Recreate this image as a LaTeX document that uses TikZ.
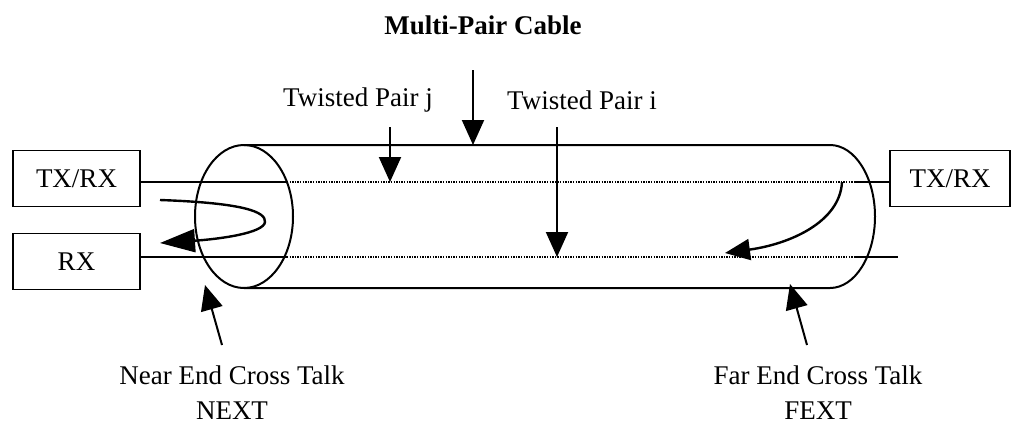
\documentclass[tikz,border=0pt]{standalone}
\usepackage{fontspec}
\setmainfont{Liberation Serif}
\usetikzlibrary{arrows.meta}
\begin{document}
\begin{tikzpicture}[x=1pt,y=-1pt,
  lbl/.style={font=\fontsize{27}{31}\selectfont, inner sep=0pt},
  unit/.style={draw, line width=1.4pt, minimum width=127pt, minimum height=56pt, inner sep=0pt, font=\fontsize{27}{31}\selectfont},
  wire/.style={line width=1.4pt},
  dots/.style={line width=1.2pt, dash pattern=on 1.3pt off 1.3pt},
  hull/.style={line width=2pt},
  pointer/.style={line width=2pt, -{Triangle[length=25pt,width=22pt]}},
  looparrow/.style={line width=2.4pt, -{Triangle[length=35pt,width=23pt]}}
]
\useasboundingbox (0,0) rectangle (1012,424);

% terminal equipment
\node[unit] (txl) at (76.5,178.5) {TX/RX};
\node[unit] (rxl) at (76.5,261.5) {RX};
\node[unit, minimum width=120pt] (txr) at (950,178.5) {TX/RX};

% cable sheath: front ellipse, straight sides and rounded far end
\draw[hull] (244,216.5) ellipse [x radius=49, y radius=71.5];
\draw[hull] (244,145) -- (830,145)
  arc[start angle=-90, end angle=90, x radius=45, y radius=71.5]
  -- (244,288);

% the two pairs running through the cable
\coordinate (jin) at (287,182);
\coordinate (jout) at (855,182);
\coordinate (iin) at (287,257);
\coordinate (iout) at (855,257);
\coordinate (iend) at (898,257);
\draw[wire] (txl.east |- jin) -- (jin);
\draw[dots] (jin) -- (jout);
\draw[wire] (jout) -- (txr.west |- jout);
\draw[wire] (rxl.east |- iin) -- (iin);
\draw[dots] (iin) -- (iout);
\draw[wire] (iout) -- (iend);

% labels at the top
\node[lbl, font=\fontsize{27}{31}\selectfont\bfseries] (title) at (483,25) {Multi-Pair Cable};
\node[lbl] (pj) at (358,100) {Twisted Pair j};
\node[lbl] (pi) at (582,100) {Twisted Pair i};
\coordinate (cabtop) at (473,70);
\coordinate (cabtip) at (473,145);
\coordinate (pjtop) at (390,127);
\coordinate (pjtip) at (390,182);
\coordinate (pitop) at (557,127);
\coordinate (pitip) at (557,257);
\draw[pointer] (cabtop) -- (cabtip);
\draw[pointer] (pjtop) -- (pjtip);
\draw[pointer] (pitop) -- (pitip);

% near end coupling loop
\coordinate (ns) at (160,200);
\coordinate (nm) at (265,222);
\coordinate (ne) at (160,243);
\draw[looparrow] (ns) .. controls (245,203) and (266,212) .. (nm)
  .. controls (264,233) and (220,239) .. (ne);

% far end coupling curve
\coordinate (fs) at (842,182);
\coordinate (fe) at (725,253);
\draw[line width=2.4pt, -{Triangle[length=25pt,width=21pt]}]
  (fs) .. controls (840,222) and (790,244) .. (fe);

% bottom labels
\node[lbl, align=center] (next) at (232,393) {Near End Cross Talk\\[4pt]NEXT};
\node[lbl, align=center] (fext) at (818,393) {Far End Cross Talk\\[4pt]FEXT};
\coordinate (nfoot) at (222,345);
\coordinate (ntip) at (205,285);
\coordinate (ffoot) at (807,345);
\coordinate (ftip) at (790,284);
\draw[pointer] (nfoot) -- (ntip);
\draw[pointer] (ffoot) -- (ftip);
\end{tikzpicture}
\end{document}
